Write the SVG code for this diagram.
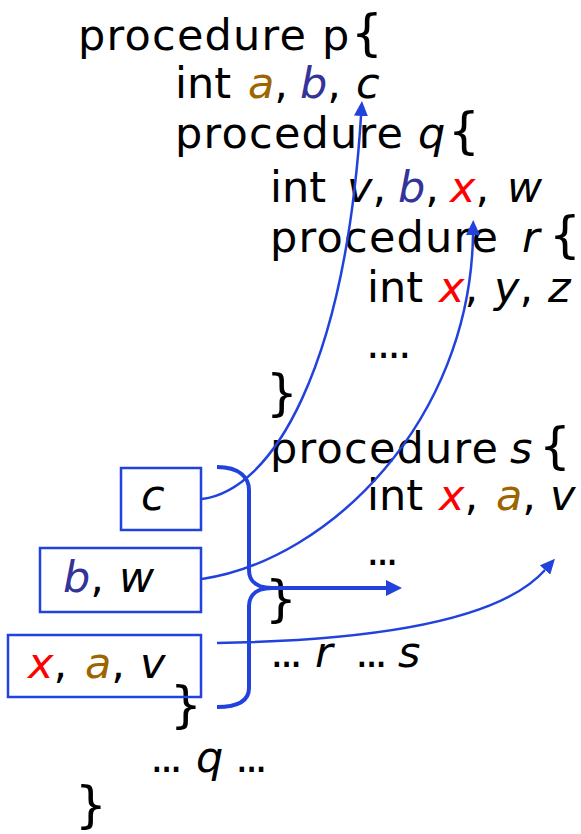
<svg xmlns="http://www.w3.org/2000/svg" width="581" height="834" viewBox="0 0 581 834">
<style>
text{font-family:"DejaVu Sans",sans-serif;font-size:43px;fill:#000}
.i{font-style:italic}
.br{font-size:50px}
.a{fill:#9c6500}
.b{fill:#333399}
.x{fill:#ff0000}
.dots{letter-spacing:-4px}
.box{fill:none;stroke:#2142dc;stroke-width:2.5}
.thin{fill:none;stroke:#2142dc;stroke-width:2.5}
.thick{fill:none;stroke:#2142dc;stroke-width:4}
</style>
<defs>
<marker id="ah" viewBox="0 0 15 14" refX="0" refY="7" markerWidth="15" markerHeight="14" markerUnits="userSpaceOnUse" orient="auto"><path d="M0,0 L15,7 L0,14 z" fill="#2142dc"/></marker>
<marker id="ahb" viewBox="0 0 16 16" refX="1" refY="8" markerWidth="16" markerHeight="16" markerUnits="userSpaceOnUse" orient="auto"><path d="M0,0 L16,8 L0,16 z" fill="#2142dc"/></marker>
</defs>
<g id="code">
<text y="50"><tspan x="78" textLength="228" lengthAdjust="spacing">procedure</tspan><tspan x="322">p</tspan><tspan x="351" class="br">{</tspan></text>
<text y="98"><tspan x="175">int</tspan><tspan x="248" class="i a">a</tspan>,<tspan x="300" class="i b">b</tspan>,<tspan x="356" class="i">c</tspan></text>
<text y="148"><tspan x="175" textLength="228" lengthAdjust="spacing">procedure</tspan><tspan x="418" class="i">q</tspan><tspan x="448" class="br">{</tspan></text>
<text y="202"><tspan x="270">int</tspan><tspan x="347" class="i">v</tspan>,<tspan x="398" class="i b">b</tspan>,<tspan x="450" class="i x">x</tspan>,<tspan x="507" class="i">w</tspan></text>
<text y="252"><tspan x="270" textLength="228" lengthAdjust="spacing">procedure</tspan><tspan x="522" class="i">r</tspan><tspan x="549" class="br">{</tspan></text>
<text y="302"><tspan x="367">int</tspan><tspan x="439" class="i x">x</tspan>,<tspan x="494" class="i">y</tspan>,<tspan x="548" class="i">z</tspan></text>
<text x="366" y="358" class="dots" style="letter-spacing:-3px">....</text>
<text x="266" y="410" class="br">}</text>
<text y="463"><tspan x="270" textLength="228" lengthAdjust="spacing">procedure</tspan><tspan x="510" class="i">s</tspan><tspan x="539" class="br">{</tspan></text>
<text y="510"><tspan x="367">int</tspan><tspan x="439" class="i x">x</tspan>,<tspan x="496" class="i a">a</tspan>,<tspan x="550" class="i">v</tspan></text>
<text x="366" y="565" class="dots">...</text>
<text x="265" y="616" class="br">}</text>
<text y="667"><tspan x="270" class="dots">...</tspan><tspan x="315" class="i">r</tspan><tspan x="355" class="dots">...</tspan><tspan x="398" class="i">s</tspan></text>
<text x="170" y="722" class="br">}</text>
<text y="772"><tspan x="150" class="dots">...</tspan><tspan x="196" class="i">q</tspan><tspan x="235" class="dots">...</tspan></text>
<text x="75" y="822" class="br">}</text>
</g>
<g id="box-c">
<rect class="box" x="121" y="468" width="80" height="62"/>
<text x="141" y="510" class="i">c</text>
</g>
<g id="box-bw">
<rect class="box" x="40" y="548" width="161" height="64"/>
<text y="592"><tspan x="63" class="i b">b</tspan>,<tspan x="119" class="i">w</tspan></text>
</g>
<g id="box-xav">
<rect class="box" x="8" y="635" width="193" height="62"/>
<text y="678"><tspan x="28" class="i x">x</tspan>,<tspan x="85" class="i a">a</tspan>,<tspan x="140" class="i">v</tspan></text>
</g>
<g id="connectors">
<path class="thin" d="M202,499 C272,490 345,370 361,116" marker-end="url(#ah)"/>
<path class="thin" d="M202,579 C330,560 470,420 473,235" marker-end="url(#ah)"/>
<path class="thin" d="M217,643 C400,640 505,615 545,570" marker-end="url(#ah)"/>
<path class="thick" d="M217,467 C240,467 249,478 249,490 L249,570 C249,582 258,588 272,588"/>
<path class="thick" d="M272,588 C258,588 249,594 249,606 L249,688 C249,700 240,707 217,707"/>
<path class="thick" d="M262,588 L387,588" marker-end="url(#ahb)"/>
</g>
</svg>
